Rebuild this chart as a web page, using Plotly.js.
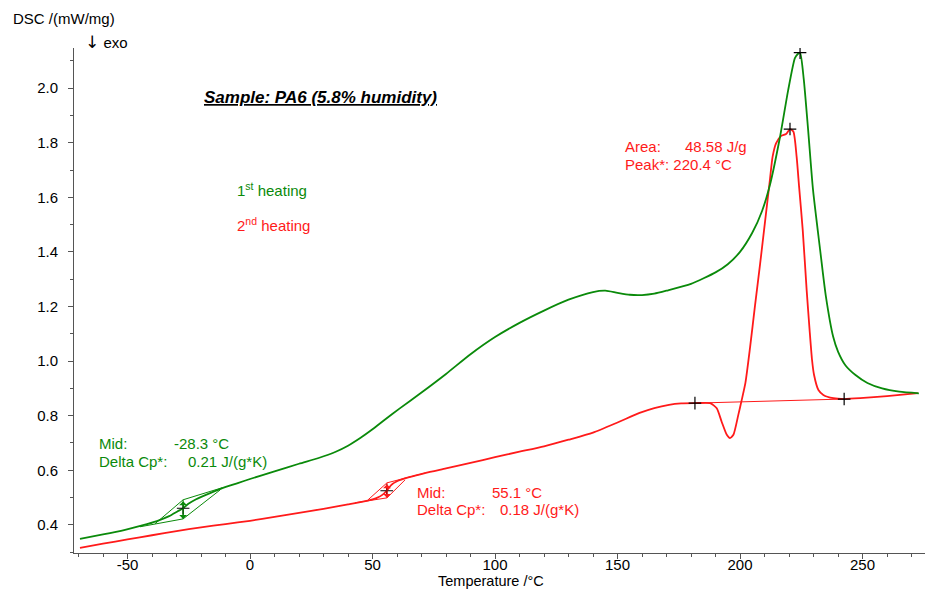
<!DOCTYPE html>
<html><head><meta charset="utf-8">
<script src="https://cdn.plot.ly/plotly-3.0.1.min.js"></script>
<style>html,body{margin:0;padding:0;background:#fff}#chart{width:926px;height:593px}</style>
</head><body><div id="chart"></div>
<script>
// 1st heating (green)
const heat1T = [-69.4,-60,-51,-44,-38,-33,-29.5,-27.3,-25,-22,-18,-12,-5,0,10,20,28,35,40,45,50,55,61,70,80,90,100,110,120,130,140,145,150,155,160,165,170,180,190,195,200,205,209,212.2,216.3,219.6,222.4,223.6,224.5,226,227.8,229.8,232.7,235,238,240,243,247,252,258,265,273];
const heat1V = [0.349,0.365,0.382,0.398,0.414,0.432,0.450,0.461,0.478,0.494,0.510,0.532,0.553,0.568,0.596,0.624,0.645,0.668,0.69,0.718,0.75,0.785,0.826,0.885,0.953,1.025,1.088,1.14,1.185,1.225,1.253,1.258,1.25,1.243,1.242,1.247,1.258,1.283,1.325,1.355,1.40,1.47,1.55,1.645,1.82,1.99,2.11,2.125,2.13,2.034,1.847,1.627,1.407,1.24,1.09,1.035,0.985,0.95,0.92,0.9,0.888,0.882];
// 2nd heating (red)
const heat2T = [-69.4,-60,-50,-40,-30,-20,-10,0,10,20,30,40,48,52,54,55.8,57.5,60,65,71.4,80,90,100,110,120,130,140,150,159,165,171,176,181.6,187.8,190.5,192.5,194.6,195.9,197.3,199.3,200.7,202.2,204.1,206.1,208.2,210.2,212.2,213.3,214.7,216.8,218.8,220.4,221.8,223.1,224.1,225.6,227.2,228.4,229.4,230.2,232,234,238.1,242.5,249,260,272.6];
const heat2V = [0.316,0.331,0.347,0.362,0.377,0.391,0.403,0.415,0.429,0.444,0.459,0.475,0.489,0.5,0.51,0.525,0.545,0.56,0.575,0.59,0.607,0.627,0.648,0.668,0.688,0.712,0.738,0.775,0.81,0.828,0.84,0.845,0.846,0.846,0.827,0.778,0.73,0.718,0.73,0.803,0.858,0.92,1.05,1.202,1.356,1.51,1.664,1.749,1.798,1.825,1.832,1.85,1.84,1.749,1.64,1.48,1.26,1.114,1.004,0.95,0.894,0.876,0.864,0.861,0.864,0.872,0.883];
// Melting baseline (2nd heating)
const baseT = [181.6, 242.5];
const baseV = [0.846, 0.861];
// Glass transition construction, 1st heating
const tg1LowT = [-44.9,-27.3], tg1LowV = [0.393,0.422];
const tg1UpT = [-27.3,-11.4], tg1UpV = [0.492,0.536];
const tg1D1T = [-38.8,-27.3], tg1D1V = [0.404,0.492];
const tg1D2T = [-27.3,-12.2], tg1D2V = [0.422,0.528];
const tg1Mid = -27.3, tg1Bot = 0.422, tg1Top = 0.492;
// Glass transition construction, 2nd heating
const tg2LowT = [42.9,55.9], tg2LowV = [0.481,0.499];
const tg2UpT = [55.9,71.4], tg2UpV = [0.554,0.590];
const tg2D1T = [48.2,55.9], tg2D1V = [0.492,0.554];
const tg2D2T = [55.9,63.3], tg2D2V = [0.499,0.565];
const tg2Mid = 55.9, tg2Bot = 0.499, tg2Top = 0.554;
// Marked points (crosses)
const crossT = [224.5, -27.3, 55.8, 220.4, 181.6, 242.5];
const crossV = [2.13, 0.461, 0.525, 1.85, 0.846, 0.861];

const xTicks = [-50,0,50,100,150,200,250];
const yTicks = [0.4,0.6,0.8,1.0,1.2,1.4,1.6,1.8,2.0];

const GREEN = '#0a8a0a', RED = '#ff1a1a';
const F = 'Liberation Sans, Arial, sans-serif';
const FS = 15;

function thin(x,y,c){return {x:x,y:y,type:'scatter',mode:'lines',line:{color:c,width:1},hoverinfo:'skip',showlegend:false};}

const traces = [
  {x:heat2T,y:heat2V,type:'scatter',mode:'lines',line:{color:RED,width:1.8,shape:'spline',smoothing:0.6},showlegend:false},
  thin(baseT,baseV,RED),
  thin(tg2LowT,tg2LowV,RED),thin(tg2UpT,tg2UpV,RED),thin(tg2D1T,tg2D1V,RED),thin(tg2D2T,tg2D2V,RED),
  thin([tg2Mid,tg2Mid],[tg2Bot,tg2Top],RED),
  {x:heat1T,y:heat1V,type:'scatter',mode:'lines',line:{color:GREEN,width:1.8,shape:'spline',smoothing:0.6},showlegend:false},
  thin(tg1LowT,tg1LowV,GREEN),thin(tg1UpT,tg1UpV,GREEN),thin(tg1D1T,tg1D1V,GREEN),thin(tg1D2T,tg1D2V,GREEN),
  thin([tg1Mid,tg1Mid],[tg1Bot,tg1Top],GREEN),
  {x:crossT,y:crossV,type:'scatter',mode:'markers',marker:{symbol:'cross-thin',size:9,line:{color:'#000',width:1.2}},showlegend:false,hoverinfo:'skip'}
];

function txt(x,y,t,c,extra){return Object.assign({x:x,y:y,xref:'x',yref:'y',text:t,showarrow:false,xanchor:'left',yanchor:'middle',font:{family:F,size:FS,color:c}},extra||{});}

const annotations = [
  {x:-0.074,y:1.059,xref:'paper',yref:'paper',text:'DSC /(mW/mg)',showarrow:false,xanchor:'left',yanchor:'middle',font:{family:F,size:15,color:'#000'}},
  {x:0.0106,y:1.012,xref:'paper',yref:'paper',text:'<span style="font-family:DejaVu Sans;font-size:17px">↓</span> exo',showarrow:false,xanchor:'left',yanchor:'middle',font:{family:F,size:15,color:'#000'}},
  {x:0.49,y:-0.056,xref:'paper',yref:'paper',text:'Temperature /°C',showarrow:false,xanchor:'center',yanchor:'middle',font:{family:F,size:14.5,color:'#000'}},
  txt(28.6,1.964,'<b><i><u>Sample: PA6 (5.8% humidity)</u></i></b>','#000',{xanchor:'center',font:{family:F,size:17,color:'#000'}}),
  txt(-6.1,1.627,'1<sup>st</sup> heating',GREEN),
  txt(-6.1,1.499,'2<sup>nd</sup> heating',RED),
  txt(-62.4,0.697,'Mid:',GREEN), txt(-31.8,0.697,'-28.3 °C',GREEN),
  txt(-62.4,0.634,'Delta Cp*:',GREEN), txt(-26.1,0.634,'0.21 J/(g*K)',GREEN),
  txt(67.3,0.517,'Mid:',RED), txt(98,0.517,'55.1 °C',RED),
  txt(67.3,0.455,'Delta Cp*:',RED), txt(101.2,0.455,'0.18 J/(g*K)',RED),
  txt(152.2,1.785,'Area:',RED), txt(176.7,1.785,'48.58 J/g',RED),
  txt(152.2,1.719,'Peak*: 220.4 °C',RED),
  txt(227.3,2.166,'224.5 °C',GREEN),
  {x:tg1Mid,y:tg1Bot,ax:tg1Mid,ay:tg1Top,xref:'x',yref:'y',axref:'x',ayref:'y',text:'',showarrow:true,arrowhead:1,arrowside:'end+start',arrowsize:1.3,arrowwidth:1,arrowcolor:GREEN,standoff:0,startstandoff:0},
  {x:tg2Mid,y:tg2Bot,ax:tg2Mid,ay:tg2Top,xref:'x',yref:'y',axref:'x',ayref:'y',text:'',showarrow:true,arrowhead:1,arrowside:'end+start',arrowsize:1.3,arrowwidth:1,arrowcolor:RED,standoff:0,startstandoff:0}
];

const layout = {
  width:926,height:593,
  margin:{l:74,r:1,t:48,b:40},
  paper_bgcolor:'#fff',plot_bgcolor:'#fff',
  showlegend:false,
  font:{family:F,size:FS,color:'#000'},
  xaxis:{range:[-71.84,275.5],tickvals:xTicks,ticktext:xTicks.map(String),showgrid:false,zeroline:false,
    showline:true,linecolor:'#555',linewidth:1,ticks:'outside',ticklen:5,tickcolor:'#555',
    minor:{dtick:10,tick0:0,ticks:'outside',ticklen:3,tickcolor:'#555'},
    tickfont:{family:F,size:FS,color:'#000'},ticklabelstandoff:-7},
  yaxis:{range:[0.297,2.147],tickvals:yTicks,ticktext:yTicks.map(v=>v.toFixed(1)),showgrid:false,zeroline:false,
    showline:true,linecolor:'#555',linewidth:1,ticks:'outside',ticklen:5,tickcolor:'#555',
    minor:{dtick:0.1,tick0:0,ticks:'outside',ticklen:3,tickcolor:'#555'},
    tickfont:{family:F,size:FS,color:'#000'},ticklabelstandoff:7},
  annotations:annotations
};
Plotly.newPlot('chart',traces,layout,{staticPlot:true});
</script></body></html>
